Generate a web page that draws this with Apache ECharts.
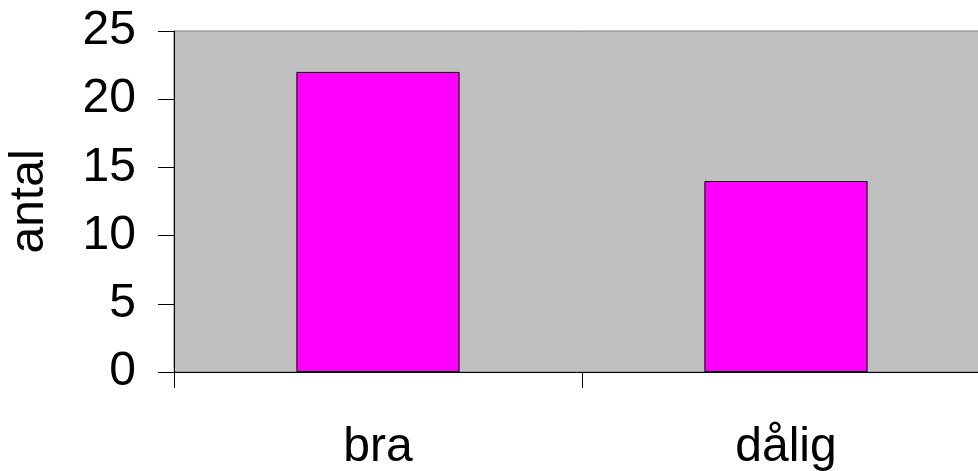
<!DOCTYPE html>
<html>
<head>
<meta charset="utf-8">
<script src="https://cdn.jsdelivr.net/npm/echarts@6/dist/echarts.min.js"></script>
<style>
  html, body { margin: 0; padding: 0; background: #ffffff; }
  #chart { width: 978px; height: 471px; }
</style>
</head>
<body>
<div id="chart"></div>
<script>
// Answers per rating category
const categories = ['bra', 'dålig'];
const counts = [22, 14];
const yTicks = { min: 0, max: 25, interval: 5 };

const chart = echarts.init(document.getElementById('chart'), null, { renderer: 'canvas' });
const font = 'Liberation Sans, Arial, sans-serif';

chart.setOption({
  animation: false,
  backgroundColor: '#ffffff',
  grid: {
    left: 174, top: 31, width: 816, bottom: 99,
    outerBoundsMode: 'none',
    containLabel: false,
    show: true,
    backgroundColor: '#C0C0C0',
    borderColor: '#808080',
    borderWidth: 1
  },
  xAxis: {
    type: 'category',
    data: categories,
    boundaryGap: true,
    axisLine: { lineStyle: { color: '#000000', width: 1 } },
    axisTick: { show: true, inside: false, length: 16, alignWithLabel: false, lineStyle: { color: '#000000' } },
    axisLabel: { color: '#000000', fontFamily: font, fontSize: 48, margin: 52 },
    splitLine: { show: false }
  },
  yAxis: {
    type: 'value',
    min: yTicks.min, max: yTicks.max, interval: yTicks.interval,
    name: 'antal',
    nameLocation: 'middle',
    nameRotate: 90,
    nameGap: 120,
    nameTextStyle: { color: '#000000', fontFamily: font, fontSize: 48 },
    axisLine: { show: true, lineStyle: { color: '#000000', width: 1 } },
    axisTick: { show: true, inside: false, length: 16, lineStyle: { color: '#000000' } },
    axisLabel: { color: '#000000', fontFamily: font, fontSize: 48, margin: 38 },
    splitLine: { show: false }
  },
  series: [{
    type: 'bar',
    data: counts,
    barWidth: '40%',
    itemStyle: { color: '#FF00FF', borderColor: '#000000', borderWidth: 1 }
  }]
});
</script>
</body>
</html>
